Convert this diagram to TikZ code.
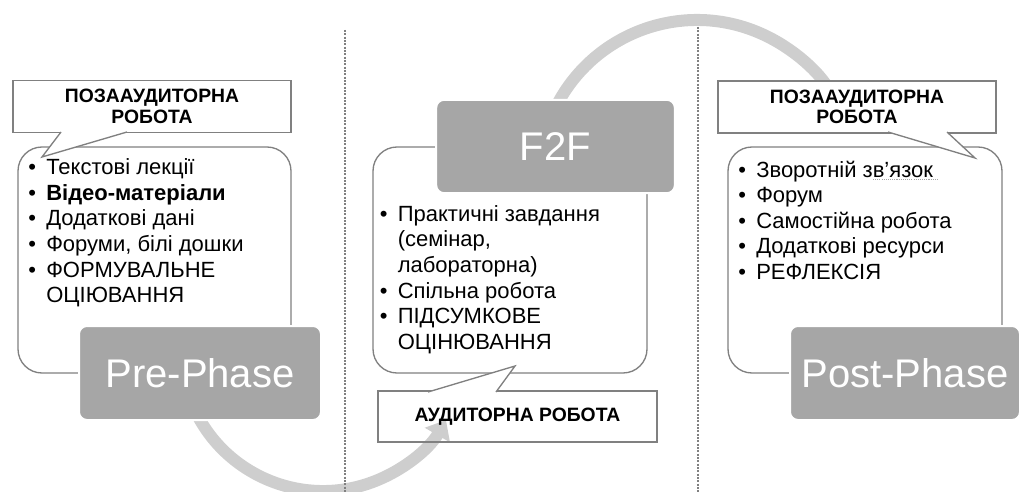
\documentclass[tikz,border=0pt]{standalone}
\usepackage{fontspec}
\setmainfont{Liberation Sans}
\usetikzlibrary{arrows.meta,positioning,calc}

\definecolor{phasegray}{RGB}{166,166,166}
\definecolor{arcgray}{RGB}{206,206,206}
\definecolor{framegray}{RGB}{128,128,128}

\tikzstyle{phase}   =[fill=phasegray,draw=white,line width=1.5pt,rounded corners=6pt,text=white,inner sep=0pt,font=\fontsize{30}{34}\selectfont]
\tikzstyle{listbox} =[draw=framegray,fill=white,line width=1pt,rounded corners=18pt,inner sep=0pt]
\tikzstyle{callbox} =[draw=framegray,fill=white,line width=1pt,inner sep=0pt,align=center,font=\bfseries\fontsize{14.5}{15.5}\selectfont]
\tikzstyle{tail}    =[draw=framegray,fill=white,line width=1pt]
\tikzstyle{items}   =[inner sep=0pt,align=left,anchor=north west,font=\fontsize{16.5}{19.2}\selectfont]
\tikzstyle{arcband} =[arcgray,line width=9pt]
\tikzstyle{divider} =[framegray,line width=1.5pt,dash pattern=on 1.5pt off 1pt]

\newcommand{\bul}{\makebox[13.5pt][l]{\textbullet}}
\newcommand{\ind}{\hspace*{13.5pt}}
\newcommand{\firstline}{\rule{0pt}{13pt}}

\begin{document}
\begin{tikzpicture}[x=0.75pt,y=-0.75pt]
\useasboundingbox (0,0) rectangle (1020,492);

% cycle arrows
\draw[arcband,-{Triangle[length=13pt,width=21pt]}] (323,349) ++(160:142) arc[start angle=160,end angle=30,radius=142];
\draw[arcband,-{Triangle[length=13pt,width=21pt]}] (697,178) ++(-155:158) arc[start angle=-155,end angle=-28,radius=158];

% content frames
\node[listbox,minimum width=204.75pt,minimum height=169.5pt] (prebox)  at (154.5,260) {};
\node[listbox,minimum width=205.5pt, minimum height=169.5pt] (midbox)  at (510,260) {};
\node[listbox,minimum width=205.5pt, minimum height=169.5pt] (postbox) at (865,260) {};

% phases
\node[phase,minimum width=181.5pt,minimum height=70.5pt] (pre)  at (200,373)   {Pre-Phase};
\node[phase,minimum width=179pt,  minimum height=70pt]   (f2f)  at (555.5,146.5) {F2F};
\node[phase,minimum width=172.5pt,minimum height=70.5pt] (post) at (905,373)   {Post-Phase};

% notes
\node[callbox,minimum width=208.5pt,minimum height=39pt] (prenote) at (152,106.5) {ПОЗААУДИТОРНА\\РОБОТА};
\coordinate (pretip) at (42,157);
\filldraw[tail] (61,132) -- (pretip) -- (127,132);

\node[callbox,minimum width=208.5pt,minimum height=39pt] (postnote) at (857,107) {ПОЗААУДИТОРНА\\РОБОТА};
\coordinate (posttip) at (975,158);
\filldraw[tail] (888,132) -- (posttip) -- (947,132);

\node[callbox,fill=none,minimum width=209.25pt,minimum height=38.25pt] (midnote) at (517.5,416.5) {АУДИТОРНА РОБОТА};
\coordinate (midtip) at (515,366);
\filldraw[tail] (428,392) -- (midtip) -- (496,392);

% lists
\node[items] (prelist) at (28,157) {%
\firstline\bul Текстові лекції\\
\bul\textbf{Відео-матеріали}\\
\bul Додаткові дані\\
\bul Форуми, білі дошки\\
\bul ФОРМУВАЛЬНЕ\\
\ind ОЦІЮВАННЯ};

\node[items] (midlist) at (379.5,203.7) {%
\firstline\bul Практичні завдання\\
\ind (семінар,\\
\ind лабораторна)\\
\bul Спільна робота\\
\bul ПІДСУМКОВЕ\\
\ind ОЦІНЮВАННЯ};

\node[items] (postlist) at (738,159.5) {%
\firstline\bul Зворотній зв’язок\\
\bul Форум\\
\bul Самостійна робота\\
\bul Додаткові ресурси\\
\bul РЕФЛЕКСІЯ};
\draw[framegray!70,line width=0.6pt,dash pattern=on 0.8pt off 0.8pt] (873,179) -- (938,179);

% dividers
\coordinate (leftcut)  at (345,30);
\coordinate (leftend)  at (345,492);
\coordinate (rightcut) at (698,27);
\coordinate (rightend) at (698,492);
\draw[divider] (leftcut) -- (leftend);
\draw[divider] (rightcut) -- (rightend);
\end{tikzpicture}
\end{document}
